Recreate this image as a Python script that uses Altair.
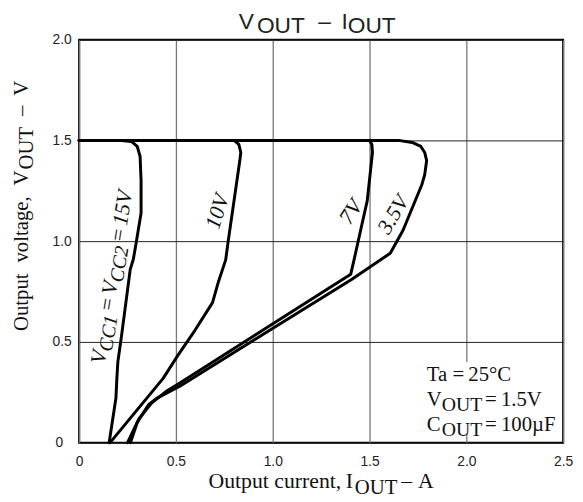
import altair as alt
import pandas as pd

# ---------------- data ----------------
x_15v = [0, 0.22, 0.27, 0.30, 0.315, 0.32, 0.32, 0.296, 0.28, 0.264, 0.219, 0.20, 0.195, 0.19, 0.155]
y_15v = [1.5, 1.5, 1.495, 1.47, 1.42, 1.30, 1.14, 1.0, 0.91, 0.86, 0.53, 0.40, 0.32, 0.22, 0]

x_10v = [0, 0.80, 0.825, 0.835, 0.83, 0.815, 0.77, 0.757, 0.72, 0.689, 0.60, 0.51, 0.434, 0.16]
y_10v = [1.5, 1.5, 1.48, 1.44, 1.40, 1.30, 1.0, 0.907, 0.80, 0.695, 0.56, 0.433, 0.319, 0]

x_7v = [0, 1.50, 1.512, 1.515, 1.505, 1.488, 1.454, 1.42, 1.403, 0.51, 0.45, 0.374, 0.31, 0.25]
y_7v = [1.5, 1.5, 1.48, 1.44, 1.35, 1.20, 1.054, 0.907, 0.836, 0.29, 0.255, 0.196, 0.12, 0]

x_35v = [0, 1.65, 1.72, 1.765, 1.785, 1.795, 1.785, 1.77, 1.673, 1.607, 1.405, 0.52, 0.40, 0.36, 0.30, 0.265]
y_35v = [1.5, 1.5, 1.49, 1.47, 1.44, 1.40, 1.33, 1.28, 1.054, 0.94, 0.809, 0.28, 0.22, 0.19, 0.10, 0]

curve_names = ["15V", "10V", "7V", "3.5V"]
curve_x = [x_15v, x_10v, x_7v, x_35v]
curve_y = [y_15v, y_10v, y_7v, y_35v]

x_ticks = [0, 0.5, 1.0, 1.5, 2.0, 2.5]
y_ticks = [0, 0.5, 1.0, 1.5, 2.0]

rows = []
for name, xs, ys in zip(curve_names, curve_x, curve_y):
    for i, (a, b) in enumerate(zip(xs, ys)):
        rows.append({"curve": name, "i": i, "x": a, "y": b})
df = pd.DataFrame(rows)

# ---------------- styling helpers ----------------
SERIF = "Liberation Serif"
SANS = "Liberation Sans"
W_SERIF = {'O': .722, 'u': .5, 't': .278, 'p': .5, ' ': .25, 'c': .444, 'r': .333, 'e': .444,
           'n': .5, ',': .25, 'I': .333, 'U': .722, 'T': .611, '–': .5, 'A': .722, 'v': .5,
           'o': .5, 'l': .278, 'a': .444, 'g': .5, 'V': .722, 'C': .667, '=': .564, '.': .25}
W_ITAL = {'V': .611, 'C': .667, '=': .675, '.': .25}


def tw(s, size, table):
    return sum(table.get(c, .5) for c in s) * size


def piece(text, px=None, py=None, anchor=None, font=SERIF, size=22, italic=False,
          angle=0, dx=0, dy=0, align='left', baseline='alphabetic', color='#111'):
    kw = dict(font=font, fontSize=size, align=align, baseline=baseline, color=color)
    if dx:
        kw['dx'] = dx
    if dy:
        kw['dy'] = dy
    if italic:
        kw['fontStyle'] = 'italic'
    if angle:
        kw['angle'] = angle
    if anchor is None:
        data = pd.DataFrame({'t': [text]})
        enc = dict(x=alt.value(px), y=alt.value(py), text='t:N')
    else:
        data = pd.DataFrame({'x': [anchor[0]], 'y': [anchor[1]], 't': [text]})
        enc = dict(x='x:Q', y='y:Q', text='t:N')
    return alt.Chart(data).mark_text(**kw).encode(**enc)


def flow(items, anchor=None, px=None, py=None, angle=0, italic=False):
    table = W_ITAL if italic else W_SERIF
    out = []
    d = 0.0
    for text, size, dyv, gap in items:
        out.append(piece(text, px=px, py=py, anchor=anchor, size=size, italic=italic,
                         angle=angle, dx=d, dy=dyv))
        d += tw(text, size, table) + gap
    return out


label_expr = "datum.value == 0 ? '0' : format(datum.value, '.1f')"

x_scale = alt.Scale(domain=[0, 2.5], nice=False, zero=False)
y_scale = alt.Scale(domain=[0, 2.0], nice=False, zero=False)

lines = alt.Chart(df).mark_line(
    color='black', strokeWidth=3, strokeJoin='round', strokeCap='round'
).encode(
    x=alt.X('x:Q', scale=x_scale, axis=alt.Axis(
        values=x_ticks, title=None, grid=True, gridColor='#777', gridWidth=1.3,
        domain=False, ticks=False, labelFont=SANS, labelFontSize=14, labelColor='#222',
        labelPadding=12, labelExpr=label_expr, labelFlush=False)),
    y=alt.Y('y:Q', scale=y_scale, axis=alt.Axis(
        values=y_ticks, title=None, grid=True, gridColor='#222', gridWidth=1,
        domain=False, ticks=False, labelFont=SANS, labelFontSize=14, labelColor='#222',
        labelPadding=8, labelExpr="datum.value == 0 ? '' : format(datum.value, '.1f')",
        labelFlush=False)),
    detail='curve:N',
    order='i:Q',
)

# white background behind the condition box
box = pd.DataFrame({'x': [1.76], 'x2': [2.49], 'y': [0.04], 'y2': [0.40]})
box_rect = alt.Chart(box).mark_rect(color='white').encode(x='x:Q', x2='x2:Q', y='y:Q', y2='y2:Q')

texts = []
# title
for t, px, py in [("V", 161.7, -11), ("OUT", 180, -7), ("–", 242, -11), ("I", 265.5, -11), ("OUT", 272, -7)]:
    texts.append(piece(t, px=px, py=py, font=SANS, size=23, color='#222'))
# x-axis title
for t, px, py, s in [("Output current,", 131, 454, 22), ("I", 270, 454, 22), ("OUT", 279, 460, 21),
                     ("–", 326, 454, 22), ("A", 343, 454, 22)]:
    texts.append(piece(t, px=px, py=py, size=s))
# y "0" label
texts.append(piece("0", px=-20, py=408, font=SANS, size=14, align='center', baseline='middle', color='#222'))
# y-axis title (rotated)
texts += flow([("Output", 21, 0, 11), ("voltage,", 21, 0, 11), ("V", 21, 0, 1),
               ("OUT", 21, 5, 11), ("–", 21, 0, 10), ("V", 21, 0, 0)],
              px=-52, py=295, angle=270)
# condition box text
for t, px, py, s in [("Ta", 352, 346, 21), ("=", 378, 346, 21), ("25°C", 394, 346, 21),
                     ("V", 352, 371, 21), ("OUT", 367, 376, 20), ("=", 411, 371, 21), ("1.5V", 427, 371, 21),
                     ("C", 352, 396, 21), ("OUT", 367, 401, 20), ("=", 411, 396, 21), ("100µF", 427, 396, 21)]:
    texts.append(piece(t, px=px, py=py, size=s))
# curve labels
texts += flow([("V", 22, 0, 0), ("CC1", 20, 5, 3), ("=", 22, 0, 3), ("V", 22, 0, 0),
               ("CC2", 20, 5, 3), ("=", 22, 0, 3), ("15V", 22, 0, 0)],
              anchor=(0.133, 0.387), angle=279, italic=True)
for t, ax, ay, ang in [("10V", 0.714, 1.147, 287), ("7V", 1.403, 1.145, 303), ("3.5V", 1.622, 1.132, 301)]:
    texts.append(piece(t, anchor=(ax, ay), size=22, italic=True, angle=ang,
                       align='center', baseline='middle'))

chart = alt.layer(box_rect, lines, *texts).properties(
    width=490, height=408,
    autosize=alt.AutoSizeParams(type='none'),
    padding={'left': 72, 'top': 29, 'right': 12, 'bottom': 55},
).configure_view(stroke='black', strokeWidth=2)

chart.save("out.html", embed_options={"renderer": "svg", "actions": False})
